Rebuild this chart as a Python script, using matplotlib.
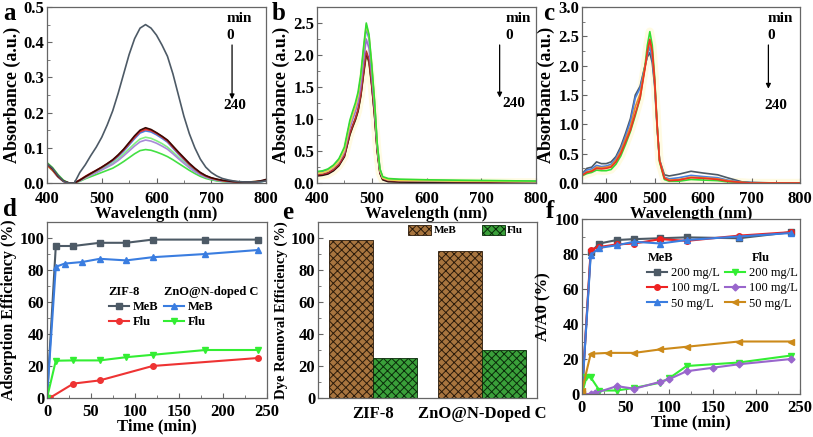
import matplotlib
matplotlib.use('Agg')
import matplotlib.pyplot as plt
from matplotlib.ticker import MultipleLocator, AutoMinorLocator

plt.rcParams['font.family'] = ['Liberation Serif', 'DejaVu Serif']
plt.rcParams['font.weight'] = 'bold'
plt.rcParams['axes.labelweight'] = 'bold'
plt.rcParams['hatch.linewidth'] = 0.7

# ---------------- Panel a data ----------------
wl_a = list(range(400, 801, 10))
a_0min = [0.055,0.042,0.022,0.005,0.000,0.000,0.030,0.052,0.078,0.102,0.130,0.165,0.205,0.255,0.310,0.365,0.410,0.440,0.450,0.440,0.420,0.392,0.360,0.310,0.250,0.190,0.140,0.100,0.068,0.045,0.030,0.020,0.013,0.009,0.006,0.004,0.003,0.003,0.003,0.004,0.006]
a_black = [0.055,0.040,0.020,0.006,0.000,0.000,0.008,0.018,0.027,0.036,0.045,0.055,0.066,0.080,0.096,0.115,0.134,0.150,0.157,0.152,0.143,0.133,0.122,0.105,0.088,0.072,0.056,0.042,0.030,0.021,0.015,0.011,0.008,0.006,0.004,0.003,0.003,0.003,0.004,0.006,0.010]
a_red = [0.052,0.038,0.018,0.005,0.000,0.000,0.009,0.019,0.028,0.036,0.045,0.055,0.065,0.078,0.094,0.112,0.130,0.146,0.152,0.149,0.141,0.131,0.119,0.102,0.085,0.069,0.053,0.040,0.028,0.020,0.014,0.010,0.007,0.005,0.004,0.003,0.003,0.003,0.003,0.005,0.008]
a_orange = [0.050,0.036,0.018,0.005,0.000,0.000,0.008,0.017,0.026,0.035,0.044,0.054,0.065,0.079,0.095,0.113,0.132,0.148,0.155,0.151,0.142,0.132,0.121,0.104,0.087,0.070,0.054,0.041,0.029,0.020,0.014,0.010,0.007,0.005,0.004,0.003,0.003,0.003,0.004,0.005,0.008]
a_blue = [0.050,0.036,0.017,0.004,0.000,0.000,0.008,0.017,0.026,0.034,0.043,0.052,0.062,0.075,0.090,0.108,0.126,0.142,0.148,0.145,0.137,0.127,0.116,0.099,0.082,0.066,0.051,0.038,0.027,0.019,0.013,0.009,0.006,0.004,0.003,0.002,0.002,0.002,0.003,0.004,0.006]
a_lgreen = [0.052,0.038,0.020,0.006,0.000,0.000,0.007,0.015,0.023,0.031,0.039,0.047,0.056,0.068,0.082,0.097,0.112,0.125,0.130,0.127,0.120,0.112,0.102,0.088,0.073,0.059,0.046,0.034,0.024,0.017,0.012,0.008,0.006,0.004,0.003,0.002,0.002,0.002,0.003,0.004,0.006]
a_lavender = [0.050,0.036,0.018,0.005,0.000,0.000,0.006,0.014,0.022,0.029,0.037,0.045,0.053,0.064,0.077,0.091,0.105,0.117,0.122,0.119,0.113,0.105,0.096,0.083,0.069,0.056,0.043,0.032,0.023,0.016,0.011,0.008,0.005,0.004,0.003,0.002,0.002,0.002,0.003,0.004,0.006]
a_green = [0.058,0.044,0.024,0.008,0.000,0.000,0.005,0.012,0.018,0.024,0.030,0.036,0.042,0.051,0.061,0.072,0.083,0.092,0.095,0.093,0.088,0.082,0.075,0.066,0.056,0.046,0.036,0.027,0.019,0.013,0.009,0.006,0.004,0.003,0.002,0.002,0.002,0.002,0.003,0.004,0.006]

# ---------------- Panel b data ----------------
wl_b = [400,410,420,430,440,450,460,465,470,475,480,485,490,495,500,505,510,515,520,530,550,600,650,700,750,800]
b_green = [0.18,0.19,0.22,0.28,0.38,0.56,0.98,1.12,1.25,1.42,1.70,2.12,2.50,2.32,1.85,1.30,0.62,0.22,0.10,0.07,0.06,0.05,0.045,0.04,0.035,0.03]
b_yellow = [0.15,0.16,0.19,0.25,0.34,0.51,0.92,1.06,1.19,1.36,1.65,2.08,2.47,2.30,1.84,1.28,0.60,0.20,0.08,0.05,0.04,0.035,0.03,0.03,0.025,0.02]
b_blue = [0.17,0.18,0.21,0.27,0.36,0.53,0.94,1.08,1.21,1.37,1.64,2.05,2.42,2.25,1.80,1.26,0.60,0.21,0.09,0.06,0.05,0.04,0.035,0.03,0.03,0.025]
b_purple = [0.15,0.16,0.19,0.24,0.33,0.48,0.86,0.99,1.11,1.26,1.52,1.90,2.25,2.10,1.68,1.18,0.56,0.19,0.08,0.05,0.04,0.035,0.03,0.03,0.025,0.02]
b_red = [0.13,0.14,0.16,0.21,0.29,0.43,0.78,0.90,1.01,1.15,1.39,1.74,2.06,1.93,1.55,1.09,0.52,0.17,0.07,0.04,0.035,0.03,0.025,0.02,0.02,0.02]
b_black = [0.11,0.12,0.14,0.19,0.27,0.41,0.76,0.88,0.99,1.13,1.37,1.71,2.03,1.91,1.53,1.07,0.50,0.15,0.05,0.02,0.015,0.01,0.01,0.01,0.01,0.01]
b_olive = [0.12,0.13,0.15,0.20,0.28,0.42,0.75,0.87,0.98,1.12,1.35,1.69,2.00,1.88,1.51,1.06,0.50,0.16,0.06,0.03,0.02,0.02,0.02,0.015,0.015,0.015]

# ---------------- Panel c data ----------------
wl_c = [350,360,370,380,390,400,410,420,430,440,450,460,470,480,485,490,495,500,505,510,520,530,550,575,600,630,650,680,700,750,800]
c_gray = [0.15,0.25,0.27,0.36,0.33,0.33,0.36,0.45,0.62,0.85,1.10,1.50,1.65,2.00,2.15,2.22,2.05,1.65,0.95,0.40,0.14,0.12,0.15,0.20,0.17,0.14,0.09,0.02,0.01,0.00,0.00]
c_blue = [0.14,0.22,0.24,0.30,0.28,0.29,0.32,0.42,0.58,0.80,1.05,1.45,1.62,1.98,2.18,2.32,2.12,1.70,0.98,0.39,0.10,0.07,0.09,0.13,0.11,0.09,0.05,0.015,0.005,0.00,0.00]
c_orange = [0.13,0.19,0.21,0.27,0.26,0.27,0.29,0.39,0.54,0.75,0.96,1.30,1.52,1.97,2.22,2.42,2.22,1.72,0.99,0.39,0.09,0.05,0.06,0.10,0.09,0.07,0.04,0.01,0.00,0.00,0.00]
c_green = [0.12,0.16,0.18,0.22,0.21,0.21,0.23,0.32,0.46,0.66,0.88,1.15,1.45,2.00,2.35,2.58,2.35,1.80,1.00,0.36,0.06,0.03,0.03,0.06,0.05,0.04,0.02,0.01,0.00,0.00,0.00]
c_red = [0.13,0.18,0.20,0.25,0.24,0.25,0.27,0.36,0.50,0.70,0.90,1.18,1.45,1.95,2.25,2.45,2.25,1.75,1.00,0.38,0.08,0.04,0.05,0.09,0.08,0.06,0.03,0.01,0.00,0.00,0.00]

# ---------------- Panel d data ----------------
d_t_zif_meb = [0, 10, 30, 60, 90, 120, 180, 240]
d_zif_meb = [0, 95, 95, 97, 97, 99, 99, 99]
d_t_zif_flu = [3, 30, 60, 120, 240]
d_zif_flu = [0, 9, 11, 20, 25]
d_t_zno_meb = [0, 10, 20, 40, 60, 90, 120, 180, 240]
d_zno_meb = [0, 82, 84, 85, 87, 86, 88, 90, 92.5]
d_t_zno_flu = [0, 10, 30, 60, 90, 120, 180, 240]
d_zno_flu = [0, 23.3, 23.5, 23.5, 25.5, 27, 30, 30]

# ---------------- Panel e data ----------------
e_categories = ['ZIF-8', 'ZnO@N-Doped C']
e_meb = [99, 92]
e_flu = [25, 30]

# ---------------- Panel f data ----------------
f_t_meb = [0, 10, 20, 40, 60, 90, 120, 180, 240]
f_meb_200 = [0, 81, 86, 88, 88.5, 89, 89.5, 89, 92.5]
f_meb_100 = [0, 82.5, 84, 85.5, 86, 88.5, 87.5, 90.5, 92.5]
f_meb_50 = [0, 79.5, 83.5, 85, 87, 86, 88, 90, 92]
f_t_flu200 = [0, 5, 10, 20, 40, 60, 90, 100, 120, 180, 240]
f_flu_200 = [0, 9.5, 9.5, 2, 2, 3.5, 6.5, 9, 16, 18, 22]
f_t_flu100 = [0, 10, 15, 40, 60, 90, 100, 120, 150, 180, 240]
f_flu_100 = [0, 0, 0.5, 4.5, 3, 7, 8.5, 13, 15, 17, 20]
f_t_flu50 = [0, 10, 30, 60, 90, 120, 180, 240]
f_flu_50 = [2, 23, 23.5, 23.5, 25.5, 27, 30, 30]

W, H = 813, 437
fig = plt.figure(figsize=(W / 100, H / 100), dpi=100)


def rect(l, r, t, b):
    return [l / W, (H - b) / H, (r - l) / W, (b - t) / H]


SP = '#666666'
TICK_FS = 12
LAB_FS = 12


def style(ax, xmaj, ymaj, xpad=4):
    for s in ax.spines.values():
        s.set_color(SP)
        s.set_linewidth(0.9)
    ax.xaxis.set_major_locator(MultipleLocator(xmaj))
    ax.yaxis.set_major_locator(MultipleLocator(ymaj))
    ax.xaxis.set_minor_locator(AutoMinorLocator(2))
    ax.yaxis.set_minor_locator(AutoMinorLocator(2))
    ax.tick_params(which='major', direction='in', length=3.5, width=0.8,
                   color=SP, labelsize=TICK_FS, pad=2)
    ax.tick_params(axis='x', which='major', pad=xpad)
    ax.tick_params(which='minor', direction='in', length=2, width=0.6, color=SP)
    for lab in ax.get_xticklabels() + ax.get_yticklabels():
        lab.set_fontweight('bold')


def time_arrow(ax, x_txt, x_arr, y0, y1, y240):
    ax.text(x_txt, 0.935, 'min', transform=ax.transAxes, fontsize=11,
            fontweight='bold', va='center')
    ax.text(x_txt, 0.84, '0', transform=ax.transAxes, fontsize=11,
            fontweight='bold', va='center')
    ax.annotate('', xy=(x_arr, y1), xytext=(x_arr, y0), xycoords='axes fraction',
                arrowprops=dict(arrowstyle='-|>', color='black', lw=0.9,
                                mutation_scale=7))
    ax.text(x_txt - 0.015, y240, '240', transform=ax.transAxes, fontsize=11,
            fontweight='bold', va='center')


XPAD = 5.5
XLP = -0.5

# ---------- a ----------
ax = fig.add_axes(rect(47, 266, 7, 183))
for y, c in [(a_green, '#44e044'), (a_lgreen, '#80f080'), (a_lavender, '#a98ad8'),
             (a_blue, '#4a80e0'), (a_orange, '#e0a020'), (a_red, '#e03030'),
             (a_black, '#3a0808'), (a_0min, '#4d5a66')]:
    ax.plot(wl_a, y, color=c, lw=1.2)
ax.set_xlim(400, 800)
ax.set_ylim(0, 0.5)
style(ax, 100, 0.1, xpad=XPAD)
ax.set_xlabel('Wavelength (nm)', fontsize=LAB_FS, labelpad=XLP)
ax.set_ylabel('Absorbance (a.u.)', fontsize=13, labelpad=2)
time_arrow(ax, 0.82, 0.845, 0.80, 0.46, 0.44)

# ---------- b ----------
ax = fig.add_axes(rect(317, 536, 7, 183))
ax.plot(wl_b, b_black, color='#fff4b0', lw=6, alpha=0.35, zorder=1)
for y, c in [(b_olive, '#8a7a30'), (b_black, '#301010'), (b_red, '#b83030'),
             (b_purple, '#a070d0'), (b_blue, '#4a70e0'), (b_yellow, '#e8d84a'),
             (b_green, '#33dd33')]:
    ax.plot(wl_b, y, color=c, lw=1.2, zorder=2)
ax.set_xlim(400, 800)
ax.set_ylim(0, 2.75)
style(ax, 100, 0.5, xpad=XPAD)
ax.set_xlabel('Wavelength (nm)', fontsize=LAB_FS, labelpad=XLP)
ax.set_ylabel('Absorbance (a.u.)', fontsize=13, labelpad=2)
time_arrow(ax, 0.86, 0.834, 0.80, 0.47, 0.45)

# ---------- c ----------
ax = fig.add_axes(rect(582, 800, 7, 183))
ax.plot(wl_c, c_green, color='#fff4b0', lw=6, alpha=0.35, zorder=1)
for y, c in [(c_gray, '#4d5a66'), (c_blue, '#4a80e0'), (c_green, '#33dd33'),
             (c_orange, '#e08a30'), (c_red, '#ee3322')]:
    ax.plot(wl_c, y, color=c, lw=1.2, zorder=2)
ax.set_xlim(350, 800)
ax.set_ylim(0, 3.0)
style(ax, 100, 0.5, xpad=XPAD)
ax.set_xticks([400, 500, 600, 700, 800])
ax.set_xlabel('Wavelength (nm)', fontsize=LAB_FS, labelpad=XLP)
ax.set_ylabel('Absorbance (a.u.)', fontsize=13, labelpad=2)
time_arrow(ax, 0.85, 0.855, 0.80, 0.52, 0.44)

# ---------- d ----------
ax = fig.add_axes(rect(47, 267, 222, 398))
mk = dict(lw=1.5, ms=4)
h1, = ax.plot(d_t_zif_meb, d_zif_meb, color='#4d5a66', marker='s', **mk)
h2, = ax.plot(d_t_zif_flu, d_zif_flu, color='#ee3333', marker='o', **mk)
h3, = ax.plot(d_t_zno_meb, d_zno_meb, color='#3a7de0', marker='^', **mk)
h4, = ax.plot(d_t_zno_flu, d_zno_flu, color='#33ee33', marker='v', **mk)
ax.set_xlim(0, 250)
ax.set_ylim(0, 110)
style(ax, 50, 20)
ax.set_xlabel('Time (min)', fontsize=LAB_FS, labelpad=-1)
ax.set_ylabel('Adsorption Efficiency (%)', fontsize=11.5, labelpad=2)
leg_kw = dict(frameon=False, loc='upper left', borderaxespad=0, borderpad=0,
              handlelength=1.6, handletextpad=0.3, labelspacing=0.25,
              prop={'weight': 'bold', 'size': 9},
              title_fontproperties={'weight': 'bold', 'size': 9},
              alignment='left')
l1 = ax.legend([h1, h2], ['MeB', 'Flu'], title='ZIF-8',
               bbox_to_anchor=(0.28, 0.635), **leg_kw)
ax.add_artist(l1)
ax.legend([h3, h4], ['MeB', 'Flu'], title='ZnO@N-doped C',
          bbox_to_anchor=(0.53, 0.635), **leg_kw)

# ---------- e ----------
ax = fig.add_axes(rect(318, 537, 222, 398))
pos = list(range(len(e_categories)))
bw = 0.4
ax.bar([p - bw / 2 for p in pos], e_meb, width=bw, color='#a8753f',
       edgecolor='#2a1a0a', hatch='xxxx', lw=0.6, label='MeB')
ax.bar([p + bw / 2 for p in pos], e_flu, width=bw, color='#3aa03a',
       edgecolor='#0a2a0a', hatch='xxxx', lw=0.6, label='Flu')
ax.set_xlim(-0.5, 1.5)
ax.set_ylim(0, 110)
style(ax, 1, 20)
ax.set_xticks(pos)
ax.set_xticklabels(e_categories, fontweight='bold')
ax.xaxis.set_minor_locator(plt.NullLocator())
ax.tick_params(axis='x', length=0, pad=6)
ax.set_ylabel('Dye Removal Efficiency (%)', fontsize=10.5, labelpad=2)
ax.legend(ncol=2, frameon=False, loc='upper left', bbox_to_anchor=(0.41, 0.985),
          borderaxespad=0, borderpad=0, handlelength=2.1, handleheight=1.0,
          handletextpad=0.2, columnspacing=2.3,
          prop={'weight': 'bold', 'size': 8})

# ---------- f ----------
ax = fig.add_axes(rect(582, 800, 219, 394))
g1, = ax.plot(f_t_meb, f_meb_200, color='#4d5a66', marker='s', **mk)
g2, = ax.plot(f_t_meb, f_meb_100, color='#ee2222', marker='o', **mk)
g3, = ax.plot(f_t_meb, f_meb_50, color='#3a7de0', marker='^', **mk)
g4, = ax.plot(f_t_flu200, f_flu_200, color='#33ee33', marker='v', **mk)
g5, = ax.plot(f_t_flu100, f_flu_100, color='#9966cc', marker='D', lw=1.5, ms=3.5)
g6, = ax.plot(f_t_flu50, f_flu_50, color='#cc8a1a', marker='<', **mk)
ax.set_xlim(0, 250)
ax.set_ylim(0, 100)
style(ax, 50, 20)
ax.set_xlabel('Time (min)', fontsize=LAB_FS, labelpad=-1)
ax.set_ylabel('A/A0 (%)', fontsize=LAB_FS, labelpad=2)
fkw = dict(leg_kw)
fkw['prop'] = {'weight': 'normal', 'size': 9}
fl1 = ax.legend([g1, g2, g3], ['200 mg/L', '100 mg/L', '50 mg/L'], title='MeB',
                bbox_to_anchor=(0.30, 0.81), **fkw)
ax.add_artist(fl1)
fkw2 = dict(fkw)
fkw2['alignment'] = 'center'
ax.legend([g4, g5, g6], ['200 mg/L', '100 mg/L', '50 mg/L'], title='Flu',
          bbox_to_anchor=(0.655, 0.81), **fkw2)

# panel letters
for lbl, x, y in [('a', 3, 20), ('b', 272, 20), ('c', 543, 20),
                  ('d', 3, 216), ('e', 282, 219), ('f', 546, 218)]:
    fig.text(x / W, 1 - y / H, lbl, fontsize=18, fontweight='bold',
             va='baseline', ha='left')

fig.savefig('out.png', dpi=100)
